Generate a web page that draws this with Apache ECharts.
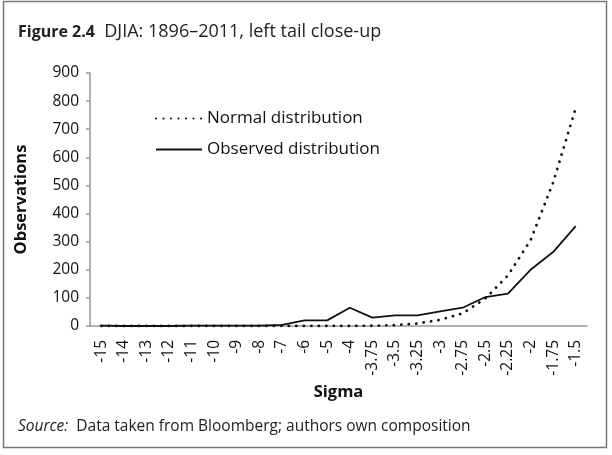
<!DOCTYPE html>
<html>
<head>
	<meta charset="utf-8">
	<title>Figure 2.4</title>
	<script src="https://cdn.jsdelivr.net/npm/echarts@6/dist/echarts.min.js"></script>
	<style>
		html, body { margin: 0; padding: 0; background: #fff; }
		#chart { width: 612px; height: 455px; }
	</style>
</head>
<body>
	<div id="chart"></div>
	<script type="text/javascript">
		// sigma buckets
		var sigmaLabels = ['-15', '-14', '-13', '-12', '-11', '-10', '-9', '-8', '-7', '-6', '-5', '-4',
			'-3.75', '-3.5', '-3.25', '-3', '-2.75', '-2.5', '-2.25', '-2', '-1.75', '-1.5']
		// observations
		var normalDist = [0, 0, 0, 0, 0, 0, 0, 0, 0, 0, 0, 0, 1, 3, 9, 22, 45, 98, 180, 305, 510, 775]
		var observedDist = [1, 0, 0, 0, 1, 1, 1, 1, 4, 20, 20, 65, 30, 38, 38, 52, 65, 103, 115, 200, 263, 355]
		var yTicks = { min: 0, max: 900, interval: 100 }

		var font = 'Open Sans'
		var chart = echarts.init(document.getElementById('chart'))

		var options = {
			animation: false,
			textStyle: { fontFamily: font, color: '#111' },
			title: [
				{
					left: 13, top: 18,
					text: '{b|Figure 2.4}  DJIA: 1896–2011, left tail close-up',
					textStyle: {
						fontFamily: font, fontSize: 18, fontWeight: 'normal', color: '#222',
						rich: { b: { fontFamily: font, fontSize: 16, fontWeight: 'bold', color: '#222' } }
					}
				},
				{
					left: 13, top: 414,
					text: '{i|Source:}  Data taken from Bloomberg; authors own composition',
					textStyle: {
						fontFamily: font, fontSize: 15.5, fontWeight: 'normal', color: '#222',
						rich: { i: { fontFamily: font, fontSize: 15.5, fontStyle: 'italic', color: '#222' } }
					}
				}
			],
			// frame round the figure
			graphic: [{
				type: 'rect',
				shape: { x: 3.5, y: 1.5, width: 603, height: 446 },
				style: { fill: 'none', stroke: '#777', lineWidth: 1.5 },
				silent: true
			}],
			legend: {
				orient: 'vertical',
				left: 150, top: 105,
				itemWidth: 46, itemHeight: 14, itemGap: 14,
				itemStyle: { opacity: 0 },
				textStyle: { fontFamily: font, fontSize: 17, color: '#111' },
				data: ['Normal distribution', 'Observed distribution']
			},
			grid: { left: 90, right: 25, top: 73, bottom: 129 },
			xAxis: {
				type: 'category',
				data: sigmaLabels,
				name: 'Sigma',
				nameLocation: 'middle',
				nameGap: 52,
				nameTextStyle: { fontFamily: font, fontSize: 16.5, fontWeight: 'bold', color: '#111' },
				axisLine: { lineStyle: { color: '#999', width: 1.5 } },
				axisTick: { show: false },
				axisLabel: { rotate: 90, fontSize: 15.5, color: '#111', margin: 14, interval: 0 }
			},
			yAxis: {
				type: 'value',
				min: yTicks.min, max: yTicks.max, interval: yTicks.interval,
				name: 'Observations',
				nameLocation: 'middle',
				nameGap: 60,
				nameTextStyle: { fontFamily: font, fontSize: 16.5, fontWeight: 'bold', color: '#111' },
				axisLine: { show: true, lineStyle: { color: '#999', width: 1.5 } },
				axisTick: { show: true, length: 4, lineStyle: { color: '#999', width: 1.5 } },
				axisLabel: { fontSize: 15.5, color: '#111', margin: 11 },
				splitLine: { show: false }
			},
			series: [
				{
					name: 'Normal distribution',
					type: 'line',
					data: normalDist,
					symbol: 'none',
					itemStyle: { color: '#111' },
					lineStyle: { color: '#111', width: 2.8, type: [0.1, 7.4], cap: 'round' },
					z: 3
				},
				{
					name: 'Observed distribution',
					type: 'line',
					data: observedDist,
					symbol: 'none',
					itemStyle: { color: '#111' },
					lineStyle: { color: '#111', width: 1.8 },
					z: 2
				}
			]
		}

		chart.setOption(options)
	</script>
</body>
</html>
